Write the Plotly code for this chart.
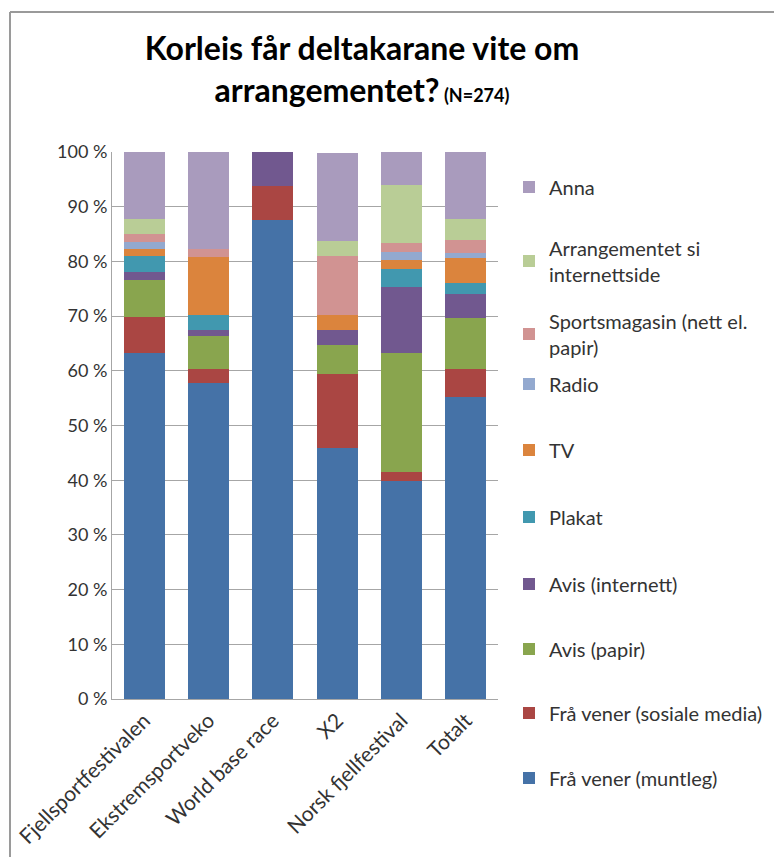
import plotly.graph_objects as go

categories = ["Fjellsportfestivalen", "Ekstremsportveko", "World base race", "X2",
              "Norsk fjellfestival", "Totalt"]

muntleg = [63.2, 57.8, 87.5, 45.9, 39.8, 55.2]
sosiale = [6.7, 2.5, 6.25, 13.5, 1.7, 5.1]
avis_papir = [6.7, 6.1, 0, 5.4, 21.7, 9.4]
avis_internett = [1.5, 1.0, 6.25, 2.7, 12.1, 4.3]
plakat = [2.9, 2.8, 0, 0, 3.3, 2.1]
tv = [1.3, 10.6, 0, 2.7, 1.7, 4.6]
radio = [1.3, 0, 0, 0, 1.5, 0.8]
sportsmagasin = [1.5, 1.4, 0, 10.8, 1.5, 2.5]
arr_internett = [2.7, 0, 0, 2.7, 10.7, 3.7]
anna = [12.2, 17.9, 0, 16.2, 6.0, 12.3]

series_names = ["Frå vener (muntleg)", "Frå vener (sosiale media)", "Avis (papir)",
                "Avis (internett)", "Plakat", "TV", "Radio",
                "Sportsmagasin (nett el.<br>papir)", "Arrangementet si<br>internettside", "Anna"]
series_values = [muntleg, sosiale, avis_papir, avis_internett, plakat, tv, radio,
                 sportsmagasin, arr_internett, anna]
colors = ["#4572A7", "#AA4643", "#89A54E", "#71588F", "#4198AF", "#DB843D",
          "#93A9CF", "#D19392", "#B9CD96", "#A99BBD"]

y_ticks = [0, 10, 20, 30, 40, 50, 60, 70, 80, 90, 100]

# page has an 8px body margin; work in screen pixels and convert
OFF = 8
W, H = 782 - OFF, 857 - OFF
# plot area in screen px: x 112..498, y 152..699
L = 112 - OFF
T = 152 - OFF
R = 782 - 498
B = 857 - 699
plot_w = W - L - R
plot_h = H - T - B


def px_to_paper_y(sy):
    return (H - B - (sy - OFF)) / plot_h


def px_to_paper_x(sx):
    return ((sx - OFF) - L) / plot_w


# legend item vertical centres in screen pixels (layout only)
legend_py = [777, 712, 648, 583, 516, 449, 383, 333, 260, 186]

FONT = "Lato, 'Open Sans', sans-serif"

fig = go.Figure()
legends = {}
for i, (name, vals, col) in enumerate(zip(series_names, series_values, colors)):
    lname = "legend" if i == 0 else f"legend{i+1}"
    fig.add_trace(go.Bar(x=categories, y=vals, name=name,
                         marker=dict(color=col, line=dict(width=0)), legend=lname))
    legends[lname] = dict(
        x=px_to_paper_x(549 - 40), xanchor="left",
        y=px_to_paper_y(legend_py[i] + 1), yanchor="middle",
        bgcolor="rgba(0,0,0,0)", borderwidth=0,
        font=dict(family=FONT, size=20, color="#333333"),
    )

fig.update_layout(
    width=W, height=H,
    margin=dict(l=L, r=R, t=T, b=B, autoexpand=False),
    barmode="stack",
    bargap=0.36,
    plot_bgcolor="white", paper_bgcolor="white",
    showlegend=True,
    title=dict(
        text="<b>Korleis får deltakarane vite om<br>arrangementet?<span style='font-size:18px'> (N=274)</span></b>",
        x=(362 - OFF) / W, xanchor="center", xref="container",
        y=1 - 52 / H, yanchor="middle", yref="container",
        font=dict(family=FONT, size=32, color="black"),
    ),
    xaxis=dict(
        showline=True, linecolor="#A6A6A6", linewidth=1,
        tickangle=-45, ticks="", showgrid=False, automargin=False,
        tickfont=dict(family=FONT, size=21, color="#333333"),
    ),
    yaxis=dict(
        range=[0, 100], tickvals=y_ticks, ticktext=[f"{v} %" for v in y_ticks],
        showline=True, linecolor="#A6A6A6", linewidth=1,
        showgrid=True, gridcolor="#A6A6A6", gridwidth=1, automargin=False,
        ticks="", tickfont=dict(family=FONT, size=18, color="#333333"),
        zeroline=False,
    ),
    shapes=[
        dict(type="line", xref="paper", yref="paper",
             x0=px_to_paper_x(10), x1=px_to_paper_x(800),
             y0=px_to_paper_y(12), y1=px_to_paper_y(12),
             line=dict(color="#9A9A9A", width=2)),
        dict(type="line", xref="paper", yref="paper",
             x0=px_to_paper_x(10), x1=px_to_paper_x(10),
             y0=px_to_paper_y(12), y1=px_to_paper_y(880),
             line=dict(color="#9A9A9A", width=2)),
    ],
)
fig.update_layout(**legends)

fig.write_html("out.html")
